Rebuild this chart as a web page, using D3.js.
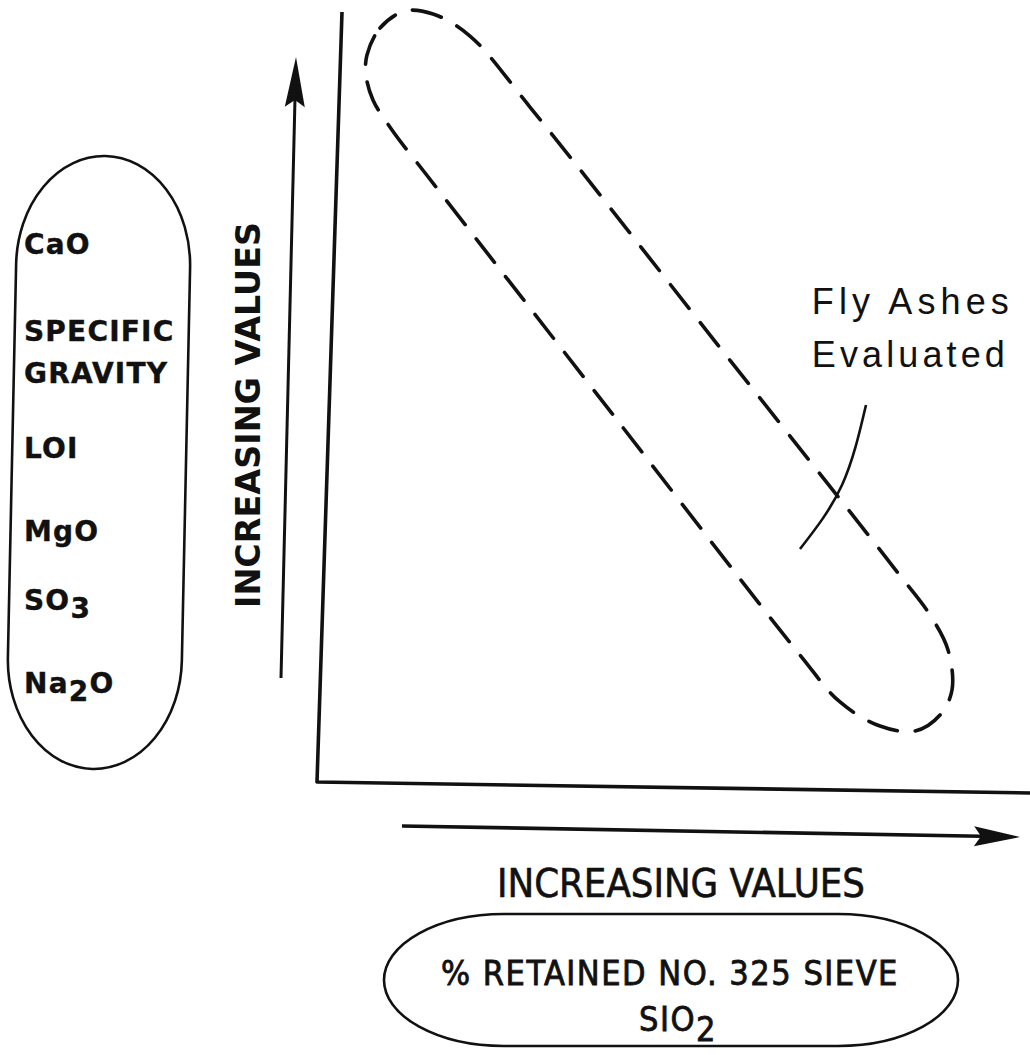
<!DOCTYPE html>
<html>
<head>
<meta charset="utf-8">
<script src="https://cdn.jsdelivr.net/npm/d3@7"></script>
<style>
  body { margin: 0; background: #fff; }
  svg { display: block; }
</style>
</head>
<body>
<div id="chart"></div>
<script>
// schematic values, in "increasing values" units (0-100 on both axes)
const envelopeU = [7.01, 8.84, 12.34, 16.27, 21.46, 29.87, 55.68, 81.49, 85.97, 88.5, 89.06,
  87.38, 83.87, 78.96, 73.35, 67.74, 41.65, 15.71, 10.52, 7.85, 6.87];
const envelopeV = [94.42, 97.92, 100.13, 99.74, 96.88, 87.66, 57.4, 27.14, 21.69, 17.14, 11.95,
  8.7, 6.62, 7.27, 10.39, 16.49, 47.53, 78.44, 84.68, 88.57, 91.82];

const leaderU = [77.0, 73.6, 67.74];
const leaderV = [48.96, 38.5, 30.26];

const noteLines = ["Fly Ashes", "Evaluated"];
const noteU = 69.4;
const noteV = [60.8, 53.9];

const axisTitle = "INCREASING VALUES";
// "_" marks a subscript
const yProperties = ["CaO", "SPECIFIC", "GRAVITY", "LOI", "MgO", "SO_3", "Na_2O"];
const xProperties = ["% RETAINED NO. 325 SIEVE", "SIO_2"];

const width = 1030;
const height = 1055;

const svg = d3.select("#chart")
  .append("svg")
  .attr("width", width)
  .attr("height", height);

const x = d3.scaleLinear().domain([0, 100]).range([317, 1030]);
const y = d3.scaleLinear().domain([0, 100]).range([782, 12]);

const ink = "#111";

// axes (the scan is a little skewed)
const axisTilt = { top: 25, right: 11 };
svg.append("path")
  .attr("d", d3.line()([
    [x(0) + axisTilt.top, y(100)],
    [x(0), y(0)],
    [x(100), y(0) + axisTilt.right]
  ]))
  .attr("fill", "none")
  .attr("stroke", ink)
  .attr("stroke-width", 3.6)
  .attr("stroke-linejoin", "round");

// dashed envelope of the fly ashes
const envelope = envelopeU.map((u, i) => [x(u), y(envelopeV[i])]);
svg.append("path")
  .attr("d", d3.line().curve(d3.curveCatmullRomClosed.alpha(0.5))(envelope))
  .attr("fill", "none")
  .attr("stroke", ink)
  .attr("stroke-width", 3.6)
  .attr("stroke-linecap", "round")
  .attr("stroke-dasharray", "30 18")
  .attr("stroke-dashoffset", 10);

// leader line to the note
const leader = leaderU.map((u, i) => [x(u), y(leaderV[i])]);
svg.append("path")
  .attr("d", d3.line().curve(d3.curveNatural)(leader))
  .attr("fill", "none")
  .attr("stroke", ink)
  .attr("stroke-width", 2.6);

svg.selectAll(".note")
  .data(noteLines)
  .enter()
  .append("text")
  .attr("class", "note")
  .attr("x", x(noteU))
  .attr("y", (d, i) => y(noteV[i]))
  .attr("textLength", (d, i) => (i === 0 ? 197 : 193))
  .attr("lengthAdjust", "spacing")
  .attr("font-family", "Liberation Sans, Arial, sans-serif")
  .attr("font-size", 36)
  .attr("fill", ink)
  .text((d) => d);

// arrows
function arrow(x1, y1, x2, y2, len, half, notch, sw) {
  const dx = x2 - x1, dy = y2 - y1;
  const L = Math.hypot(dx, dy);
  const ux = dx / L, uy = dy / L;
  const px = -uy, py = ux;
  const bx = x2 - ux * len, by = y2 - uy * len;
  const g = svg.append("g");
  g.append("line")
    .attr("x1", x1).attr("y1", y1)
    .attr("x2", x2 - ux * (len - notch)).attr("y2", y2 - uy * (len - notch))
    .attr("stroke", ink)
    .attr("stroke-width", sw);
  g.append("path")
    .attr("d", d3.line()([
      [x2, y2],
      [bx + px * half, by + py * half],
      [bx + ux * notch, by + uy * notch],
      [bx - px * half, by - py * half]
    ]) + "Z")
    .attr("fill", ink);
}
arrow(281, 678, 296, 57, 50, 10, 7, 3);
arrow(402, 826, 1020, 837, 46, 10, 7, 3.6);

// axis titles
const fontLetter = "DejaVu Sans, Verdana, sans-serif";
svg.append("text")
  .attr("transform", "translate(260, 415) rotate(-90)")
  .attr("text-anchor", "middle")
  .attr("textLength", 386)
  .attr("lengthAdjust", "spacingAndGlyphs")
  .attr("font-family", fontLetter)
  .attr("font-weight", "bold")
  .attr("font-size", 33)
  .attr("fill", ink)
  .text(axisTitle);

svg.append("text")
  .attr("x", 681)
  .attr("y", 897)
  .attr("text-anchor", "middle")
  .attr("textLength", 368)
  .attr("lengthAdjust", "spacingAndGlyphs")
  .attr("font-family", "DejaVu Sans Condensed, DejaVu Sans, sans-serif")
  .attr("font-size", 39)
  .attr("fill", ink)
  .attr("stroke", ink)
  .attr("stroke-width", 0.6)
  .text(axisTitle);

// write a label with "_" subscripts
function label(sel, str) {
  str.split(/(_\d)/).filter((s) => s).forEach((part) => {
    if (part[0] === "_") {
      sel.append("tspan").attr("dy", "0.28em").text(part.slice(1));
    } else {
      const t = sel.append("tspan").text(part);
      if (sel.selectAll("tspan").size() > 1) t.attr("dy", "-0.28em");
    }
  });
}

// left group of properties
svg.append("rect")
  .attr("x", 12).attr("y", 156)
  .attr("width", 174).attr("height", 613)
  .attr("rx", 87).attr("ry", 110)
  .attr("fill", "none")
  .attr("stroke", ink)
  .attr("stroke-width", 2.6)
  .attr("transform", "rotate(1.2, 99, 462)");

const yPropBase = [254, 341, 383, 458, 541, 610, 693];
svg.selectAll(".yprop")
  .data(yProperties)
  .enter()
  .append("text")
  .attr("class", "yprop")
  .attr("x", 24)
  .attr("y", (d, i) => yPropBase[i])
  .attr("font-family", fontLetter)
  .attr("font-weight", "bold")
  .attr("font-size", 28)
  .attr("letter-spacing", 1.2)
  .attr("fill", ink)
  .attr("stroke", ink)
  .attr("stroke-width", 0.4)
  .each(function (d) { label(d3.select(this), d); });

// bottom group of properties
svg.append("rect")
  .attr("x", 384).attr("y", 914)
  .attr("width", 574).attr("height", 132)
  .attr("rx", 120).attr("ry", 66)
  .attr("fill", "none")
  .attr("stroke", ink)
  .attr("stroke-width", 2.6);

const xPropBase = [985, 1031];
svg.selectAll(".xprop")
  .data(xProperties)
  .enter()
  .append("text")
  .attr("class", "xprop")
  .attr("x", (d, i) => (i === 0 ? 670 : 678))
  .attr("y", (d, i) => xPropBase[i])
  .attr("text-anchor", "middle")
  .attr("font-family", "DejaVu Sans Condensed, DejaVu Sans, sans-serif")
  .attr("font-size", 34)
  .attr("letter-spacing", 1.5)
  .attr("fill", ink)
  .attr("stroke", ink)
  .attr("stroke-width", 0.8)
  .each(function (d) { label(d3.select(this), d); });
</script>
</body>
</html>
